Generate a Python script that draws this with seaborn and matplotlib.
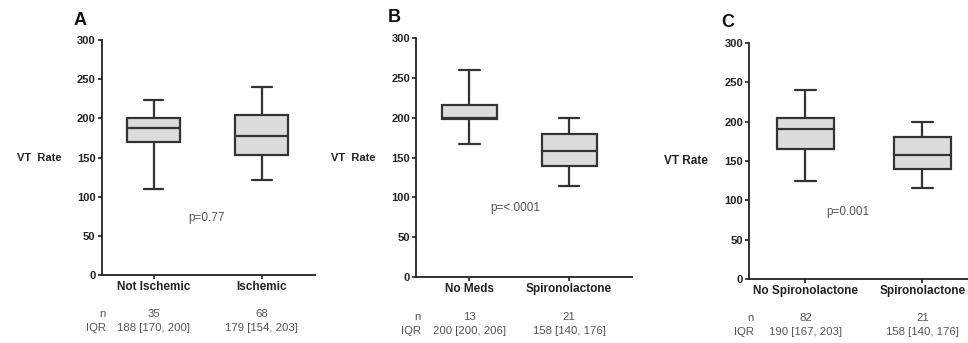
import pandas as pd
import seaborn as sns
import matplotlib
matplotlib.use("Agg")
import matplotlib.pyplot as plt

# five-number summaries: [low whisker, q1, median, q3, high whisker]
panel_letters = ["A", "B", "C"]
groups = [["Not Ischemic", "Ischemic"],
          ["No Meds", "Spironolactone"],
          ["No Spironolactone", "Spironolactone"]]
summaries = [[[110, 170, 188, 200, 223], [122, 153, 178, 205, 240]],
             [[167, 199, 200, 216, 260], [115, 140, 158, 180, 200]],
             [[125, 165, 190, 204, 240], [115, 140, 158, 180, 200]]]
n_counts = [["35", "68"], ["13", "21"], ["82", "21"]]
iqr_text = [["188 [170, 200]", "179 [154, 203]"],
            ["200 [200, 206]", "158 [140, 176]"],
            ["190 [167, 203]", "158 [140, 176]"]]
p_values = ["p=0.77", "p=<.0001", "p=0.001"]
p_pos = [(0.49, 73), (0.46, 87), (0.36, 85)]
ylabels = ["VT  Rate", "VT  Rate", "VT Rate"]
ylabel_size = [8, 8, 8.5]

sns.set_style("ticks")
plt.rcParams["font.family"] = ["Liberation Sans", "DejaVu Sans"]

fig = plt.figure(figsize=(9.68, 3.43), dpi=100)
rects = [[0.105, 0.198, 0.220, 0.685],
         [0.430, 0.192, 0.223, 0.697],
         [0.774, 0.187, 0.226, 0.688]]
xlims = [(-0.48, 1.49), (-0.53, 1.63), (-0.48, 1.39)]
widths = [0.49, 0.55, 0.49]
line_c = "#333333"
grey_txt = "#555555"

for i in range(3):
    ax = fig.add_axes(rects[i])
    rows = []
    for g, vals in zip(groups[i], summaries[i]):
        for v in vals:
            rows.append({"group": g, "rate": v})
    df = pd.DataFrame(rows)
    sns.boxplot(data=df, x="group", y="rate", order=groups[i], whis=(0, 100),
                width=widths[i], color="#dcdcdc", linecolor=line_c, linewidth=1.6,
                saturation=1, ax=ax)
    # narrower whisker caps, like the original
    for cont in ax.containers:
        for cap in getattr(cont, "caps", []):
            xs = cap.get_xdata()
            mid = (xs[0] + xs[1]) / 2
            half = (xs[1] - xs[0]) / 2 * 0.75
            cap.set_xdata([mid - half, mid + half])
    ax.set_xlim(*xlims[i])
    ax.set_ylim(0, 300)
    ax.set_yticks(range(0, 301, 50))
    ax.set_xlabel("")
    ax.set_ylabel(ylabels[i], rotation=0, ha="right", va="center",
                  fontsize=ylabel_size[i], fontweight="bold", color="#222222")
    ax.yaxis.set_label_coords(-0.19, 0.5)
    sns.despine(ax=ax)
    for s in ["left", "bottom"]:
        ax.spines[s].set_linewidth(1.3)
        ax.spines[s].set_color("#222222")
    ax.tick_params(axis="both", length=3, width=1.2, color="#222222",
                   labelsize=8, labelcolor="#222222", pad=1.5)
    ax.tick_params(axis="x", labelsize=8.5)
    for lab in ax.get_xticklabels() + ax.get_yticklabels():
        lab.set_fontweight("bold")
    ax.text(-0.13, 1.085, panel_letters[i], transform=ax.transAxes,
            fontsize=13, fontweight="bold", ha="left", va="center", color="#111111")
    ax.text(p_pos[i][0], p_pos[i][1], p_values[i], ha="center", va="center",
            fontsize=8.5, color=grey_txt)
    tr = ax.get_xaxis_transform()
    ax.text(0.02, -0.166, "n", transform=ax.transAxes, ha="right", va="center",
            fontsize=8.2, color=grey_txt)
    ax.text(0.02, -0.226, "IQR", transform=ax.transAxes, ha="right", va="center",
            fontsize=8.2, color=grey_txt)
    for k in range(2):
        ax.text(k, -0.166, n_counts[i][k], transform=tr, ha="center", va="center",
                fontsize=8.2, color=grey_txt)
        ax.text(k, -0.226, iqr_text[i][k], transform=tr, ha="center", va="center",
                fontsize=8.2, color=grey_txt)

fig.savefig("out.png", dpi=100)
